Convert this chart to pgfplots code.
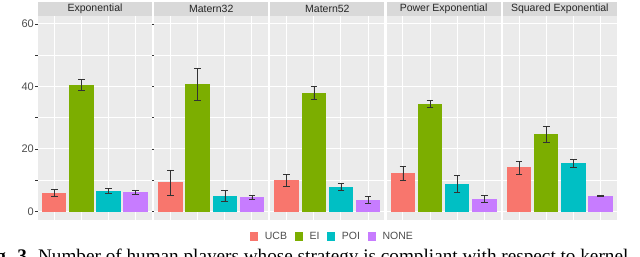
\documentclass[border=0pt]{standalone}
\usepackage{pgfplots}
\pgfplotsset{compat=1.18}
\usepackage{fontspec}
\setmainfont{Liberation Sans}
\newfontfamily\capfont{Liberation Serif}
\definecolor{ucb}{HTML}{F8766D}
\definecolor{ei}{HTML}{7CAE00}
\definecolor{poi}{HTML}{00BFC4}
\definecolor{nonecol}{HTML}{C77CFF}
\definecolor{panelbg}{HTML}{EBEBEB}
\definecolor{stripbg}{HTML}{D9D9D9}
\definecolor{grey30}{HTML}{4D4D4D}
\definecolor{grey20}{HTML}{333333}
\pgfplotsset{
  every axis title/.style={at={(0.5,1)}, anchor=south, fill=stripbg, minimum width=114pt,
      minimum height=14pt, inner sep=0pt, font=\fontsize{10.5}{12}\selectfont, text=black!85},
  panel/.style={
    scale only axis, width=114pt, height=204pt, anchor=south west,
    xmin=0.4, xmax=4.6, ymin=-2.7, ymax=62.5,
    axis background/.style={fill=panelbg},
    axis line style={draw=none},
    xtick={1,2,3,4}, xticklabels={},
    ytick={0,20,40,60}, minor ytick={10,30,50},
    grid=both,
    major grid style={white, line width=1pt},
    minor grid style={white, line width=0.5pt},
    xtick style={draw=none},
    ytick style={draw=none},
    tick align=outside,
    yticklabels={},
    ybar, bar shift=0pt, bar width=0.9,
    error bars/y dir=both, error bars/y explicit,
    error bars/error bar style={grey20, line width=0.5pt},
    error bars/error mark options={rotate=90, grey20, mark size=3.3pt, line width=0.5pt},
    /pgf/number format/assume math mode=true,
  },
  ucbbar/.style={fill=ucb, draw=none},
  eibar/.style={fill=ei, draw=none},
  poibar/.style={fill=poi, draw=none},
  nonebar/.style={fill=nonecol, draw=none},
}
\begin{document}
\begin{tikzpicture}
\useasboundingbox (0pt,0pt) rectangle (640pt,257pt);
\clip (0pt,0pt) rectangle (640pt,257pt);

% Exponential
\begin{axis}[panel, at={(38pt,37pt)}, title={Exponential},
  yticklabels={0,20,40,60},
  ytick style={draw=grey20, line width=0.5pt}, major tick length=3pt,
  tick label style={font=\fontsize{11}{12}\selectfont, text=grey30},
  yticklabel style={inner xsep=1pt}]
\addplot[ucbbar] coordinates {(1,6.0) +- (0,1.05)};
\addplot[eibar] coordinates {(2,40.6) +- (0,1.8)};
\addplot[poibar] coordinates {(3,6.7) +- (0,0.7)};
\addplot[nonebar] coordinates {(4,6.3) +- (0,0.65)};
\end{axis}

% Matern32
\begin{axis}[panel, at={(154.2pt,37pt)}, title={Matern32}]
\addplot[ucbbar] coordinates {(1,9.3) +- (0,4.0)};
\addplot[eibar] coordinates {(2,40.7) +- (0,5.2)};
\addplot[poibar] coordinates {(3,5.1) +- (0,1.7)};
\addplot[nonebar] coordinates {(4,4.6) +- (0,0.6)};
\end{axis}

% Matern52
\begin{axis}[panel, at={(270.4pt,37pt)}, title={Matern52},
  legend style={at={(0.535,-0.081)}, anchor=center, draw=none, fill=none,
    font=\fontsize{10.5}{12}\selectfont, text=grey30,
    nodes={inner sep=0pt},
    legend columns=4,
    /tikz/every odd column/.append style={column sep=7pt},
    /tikz/every even column/.append style={column sep=7.5pt}},
  legend image code/.code={\fill[#1] (0pt,-4.2pt) rectangle (8pt,4.2pt);}]
\addplot[ucbbar] coordinates {(1,10.0) +- (0,2.0)};
\addplot[eibar] coordinates {(2,38.0) +- (0,2.2)};
\addplot[poibar] coordinates {(3,7.9) +- (0,1.0)};
\addplot[nonebar] coordinates {(4,3.7) +- (0,1.2)};
\legend{UCB,EI,POI,NONE}
\end{axis}

% Power Exponential
\begin{axis}[panel, at={(386.6pt,37pt)}, title={Power Exponential}]
\addplot[ucbbar] coordinates {(1,12.25) +- (0,2.15)};
\addplot[eibar] coordinates {(2,34.4) +- (0,1.1)};
\addplot[poibar] coordinates {(3,8.9) +- (0,2.7)};
\addplot[nonebar] coordinates {(4,4.0) +- (0,1.1)};
\end{axis}

% Squared Exponential
\begin{axis}[panel, at={(502.8pt,37pt)}, title={Squared Exponential}]
\addplot[ucbbar] coordinates {(1,14.1) +- (0,2.1)};
\addplot[eibar] coordinates {(2,24.75) +- (0,2.65)};
\addplot[poibar] coordinates {(3,15.5) +- (0,1.2)};
\addplot[nonebar] coordinates {(4,5.0) +- (0,0.15)};
\end{axis}

\node[anchor=base west, inner sep=0pt, font=\capfont\fontsize{19.2}{22}\selectfont]
  at (-20.8pt,-5.8pt) {\textbf{Fig. 3.} Number of human players whose strategy is compliant with respect to kernel};
\end{tikzpicture}
\end{document}
